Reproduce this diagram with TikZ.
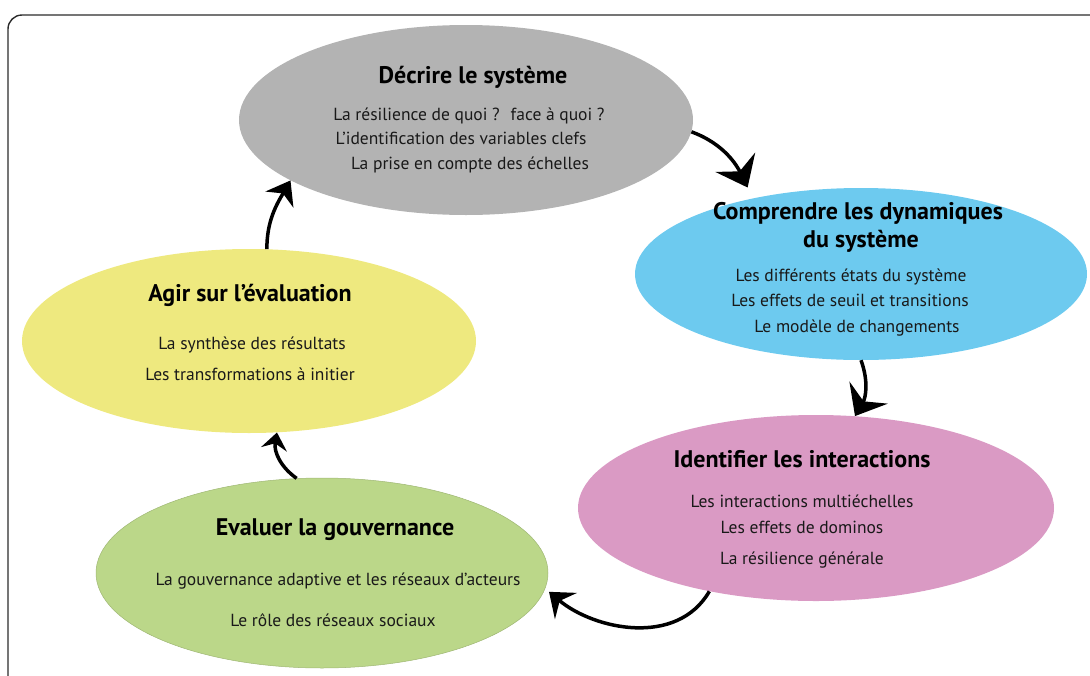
\documentclass[tikz,border=0pt]{standalone}
\usepackage{fontspec}
\setmainfont{PT Sans}
\usetikzlibrary{arrows.meta,shapes.geometric}
\definecolor{sysgrey}{HTML}{B3B3B3}
\definecolor{sysblue}{HTML}{6DCAEF}
\definecolor{syspink}{HTML}{DA9AC4}
\definecolor{sysgreen}{HTML}{BBD789}
\definecolor{sysyellow}{HTML}{EEE97F}
\definecolor{sysframe}{HTML}{2B2B2B}
\tikzset{
  bulle/.style = {ellipse, inner sep=0pt, draw=none},
  titre/.style = {anchor=base, font=\fontsize{24}{28}\selectfont\bfseries, text=black},
  ligne/.style = {anchor=base, font=\fontsize{17.5}{21}\selectfont, text=black!90},
  cyc/.style   = {-{Stealth[length=24pt,width=36pt,inset=9pt]}, line width=3.5pt, draw=black},
}

\begin{document}
\begin{tikzpicture}[x=1pt,y=-1pt]
  \path[use as bounding box] (0,0) rectangle (1090,675);
  \begin{scope}
    \clip (0,0) rectangle (1090,675);
    \draw[sysframe, line width=1.4pt, rounded corners=14pt] (8,15) rectangle (1110,695);
  \end{scope}

  % the five stages
  \node[bulle, fill=sysgrey, minimum width=454pt, minimum height=190pt] (decr) at (466,120) {};
  \node[bulle, fill=sysblue, minimum width=452pt, minimum height=172pt] (comp) at (861,274) {};
  \node[bulle, fill=syspink, minimum width=476pt, minimum height=186pt] (iden) at (816,508) {};
  \node[bulle, fill=sysgreen, draw=sysgreen!85!black, line width=0.5pt, minimum width=452pt, minimum height=190pt] (eval) at (322,573) {};
  \node[bulle, fill=sysyellow, minimum width=454pt, minimum height=184pt] (agir) at (249,341) {};

  % titles
  \node[titre] (tdecr) at (473,83) {Décrire le système};
  \node[titre] (tcomp1) at (858,219) {Comprendre les dynamiques};
  \node[titre] (tcomp2) at (861,247) {du système};
  \node[titre] (tiden) at (802,467) {Identifier les interactions};
  \node[titre] (teval) at (335,535) {Evaluer la gouvernance};
  \node[titre] (tagir) at (250,301) {Agir sur l’évaluation};

  % contents
  \foreach \x/\y/\txt in {469/120/{La résilience de quoi ?~ face à quoi ?},
                          461/144/{L’identification des variables clefs},
                          470/169/{La prise en compte des échelles},
                          851/281/{Les différents états du système},
                          850/306/{Les effets de seuil et transitions},
                          857/332/{Le modèle de changements},
                          802/507/{Les interactions multiéchelles},
                          802/533/{Les effets de dominos},
                          802/564/{La résilience générale},
                          338/585/{La gouvernance adaptive et les réseaux d’acteurs},
                          333/626/{Le rôle des réseaux sociaux},
                          252/349/{La synthèse des résultats},
                          250/380/{Les transformations à initier}}{
    \node[ligne] at (\x,\y) {\txt};
  }

  % the cycle
  \draw[cyc, shorten >=12pt, -{Stealth[length=28pt,width=44pt,inset=10pt]}] (decr.-3) to[out=-20,in=116] (comp.145);
  \draw[cyc, -{Stealth[length=27pt,width=44pt,inset=10pt]}] (comp.-90) to[out=-70,in=60] (iden.67);
  \draw[cyc, shorten >=5pt, -{Stealth[length=22pt,width=34pt,inset=8pt]}] (iden.218) to[out=240,in=-40] (eval.-4);
  \draw[cyc, -{Stealth[length=17pt,width=26pt,inset=6pt]}] (eval.105) to[out=145,in=-100] (agir.-73);
  \draw[cyc, -{Stealth[length=22pt,width=32pt,inset=7pt]}] (agir.79) to[out=90,in=-120] (decr.199);
\end{tikzpicture}
\end{document}
